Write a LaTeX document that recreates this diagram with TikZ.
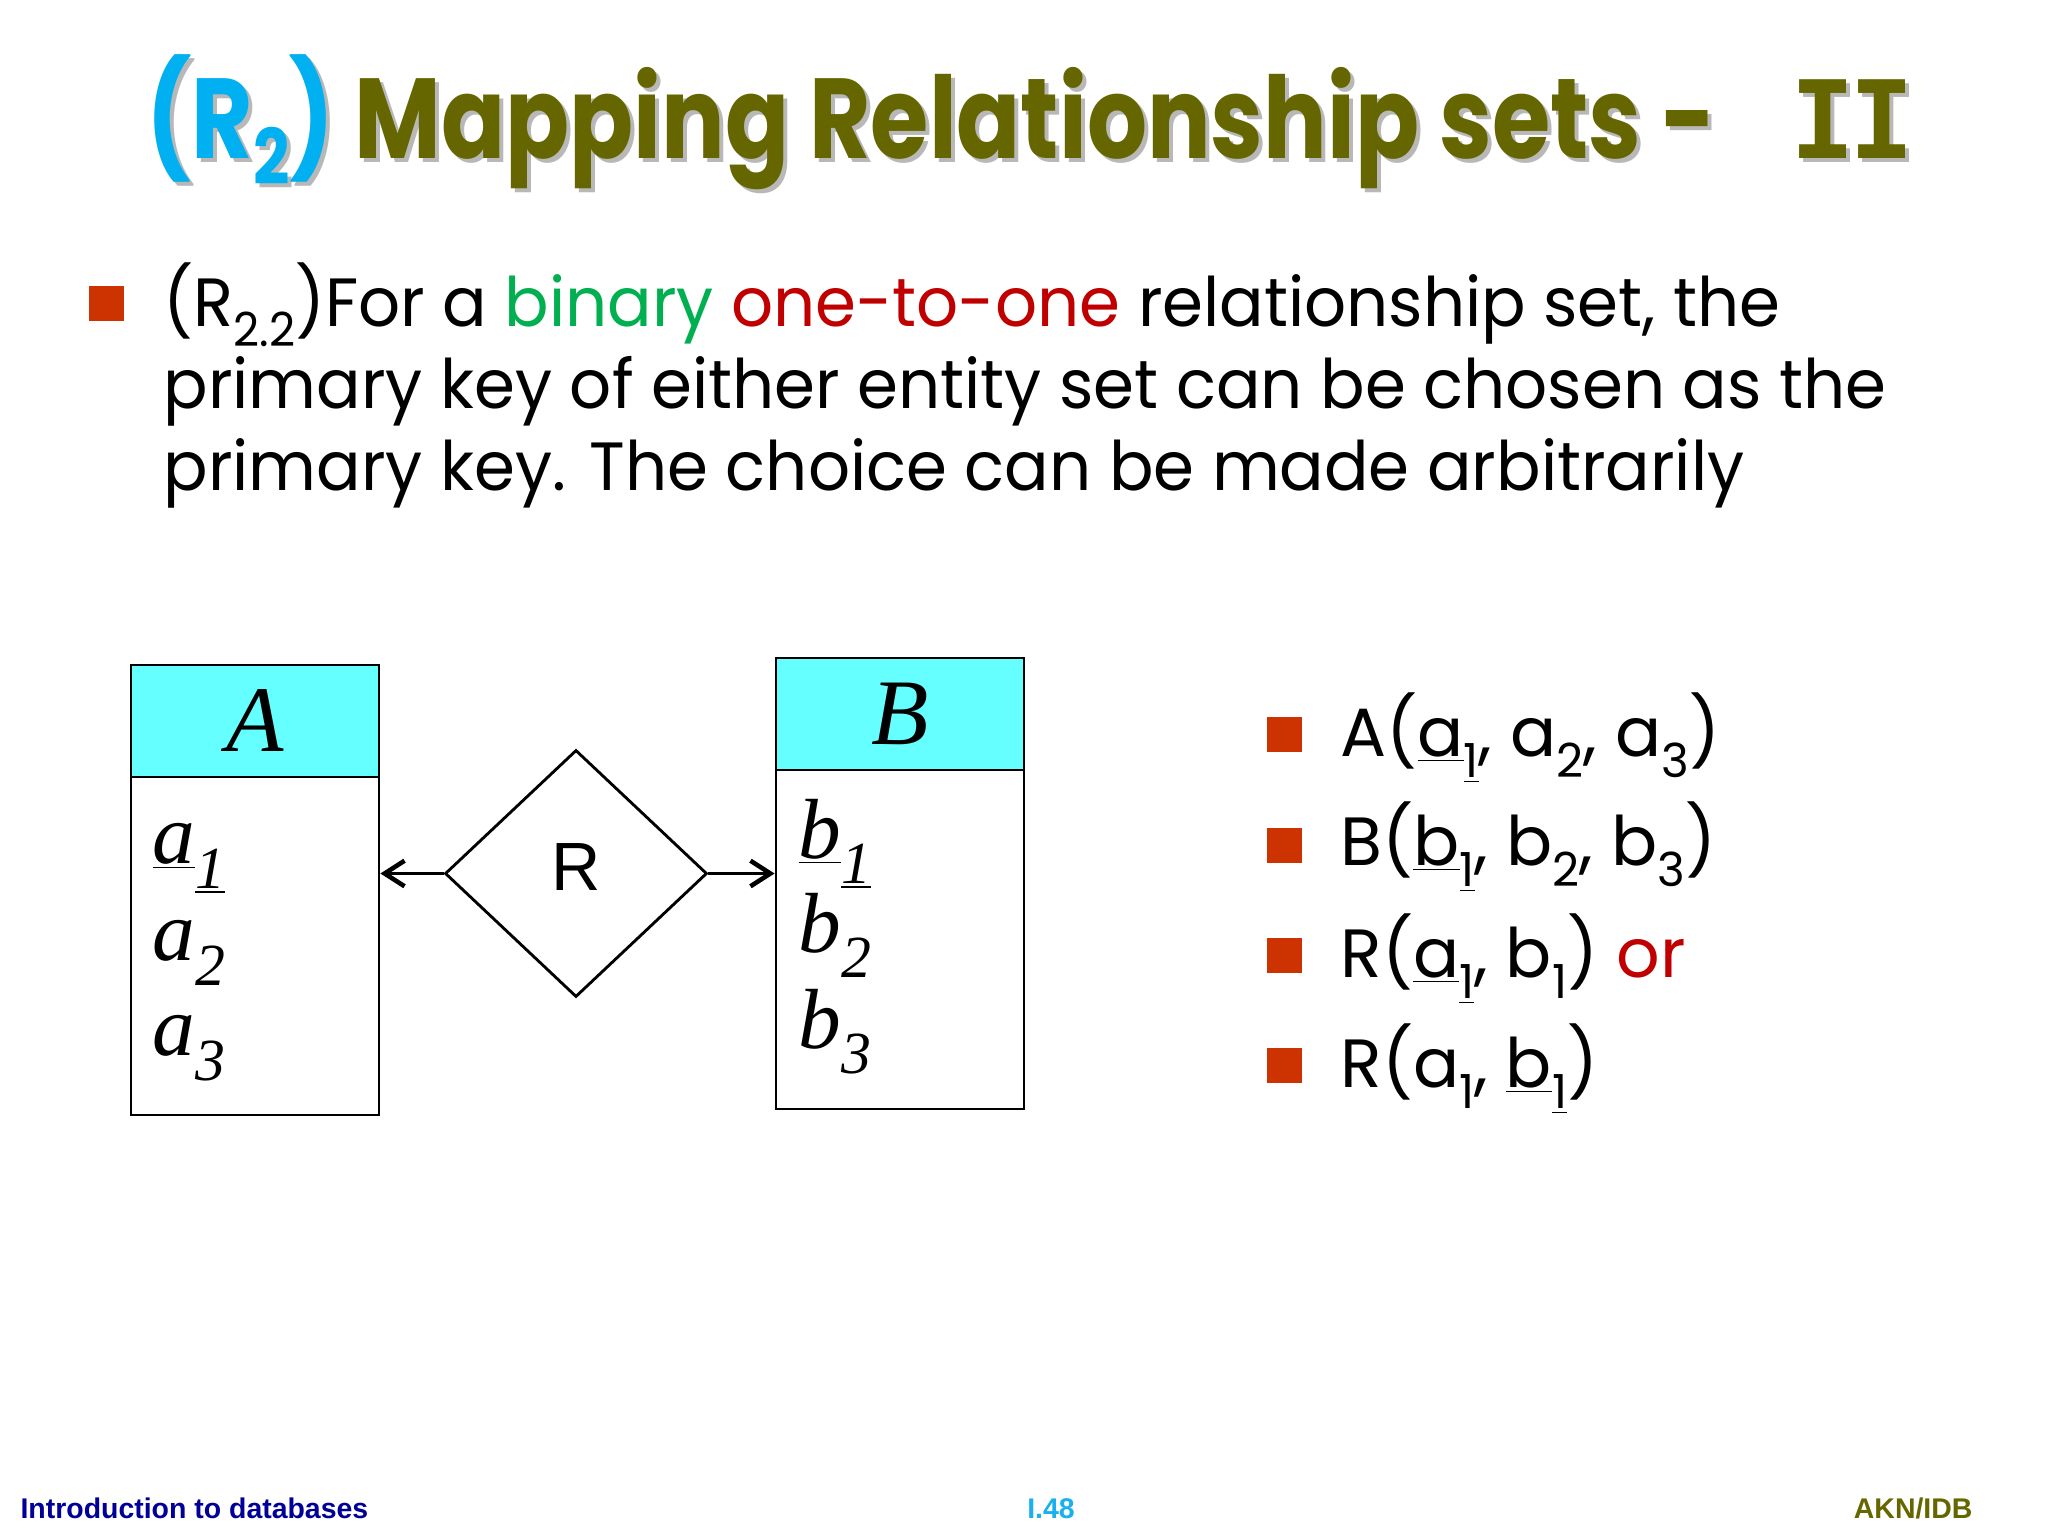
\documentclass[tikz,border=0pt]{standalone}
\usepackage{fontspec}
\usetikzlibrary{shapes.geometric,arrows.meta}
\setmainfont{Poppins}
\newfontfamily\bodyfont[FakeStretch=0.965]{Poppins}
\newfontfamily\listfont{Poppins}
\newfontfamily\titlefont[FakeStretch=0.83]{Poppins}
\newfontfamily\slabfont{DejaVu Sans Mono}
\newfontfamily\serifit{Liberation Serif}
\newfontfamily\arialfont{Liberation Sans}
\definecolor{titleolive}{HTML}{666600}
\definecolor{titlecyan}{HTML}{00B0F0}
\definecolor{bulletred}{HTML}{CC3300}
\definecolor{kwgreen}{HTML}{00B050}
\definecolor{kwred}{HTML}{C00000}
\definecolor{headcyan}{HTML}{66FFFF}
\definecolor{footnavy}{HTML}{000099}
\definecolor{footcyan}{HTML}{1AB0EE}
\newcommand\sbx[2]{\raisebox{-#1}{\fontsize{16.5}{16.5}\selectfont #2}}
\newcommand\isb[1]{\raisebox{-8.8pt}{\fontsize{21}{21}\selectfont\itshape #1}}
\newcommand\titletext{(R\raisebox{-9pt}{\fontsize{27}{27}\selectfont 2}) Mapping Relationship sets -\hspace{26pt}{\slabfont\bfseries\fontsize{38}{38}\selectfont I\kern-2pt I}}
\begin{document}
\begin{tikzpicture}[x=0.3515625pt,y=-0.3515625pt,
  bodytext/.style={anchor=base west,inner sep=0pt,font=\bodyfont\fontsize{24}{28.8}\selectfont},
  listtext/.style={anchor=base west,inner sep=0pt,font=\listfont\fontsize{24}{28.8}\selectfont},
  bsq/.style={fill=bulletred,draw=none,minimum width=35*0.3515625pt,minimum height=35*0.3515625pt,inner sep=0pt},
  headbox/.style={draw=black,line width=1pt,fill=headcyan,minimum width=248*0.3515625pt,minimum height=112*0.3515625pt,inner sep=0pt,font=\serifit\itshape\fontsize{33}{33}\selectfont},
  attrbox/.style={draw=black,line width=1pt,fill=white,minimum width=248*0.3515625pt,inner sep=0pt},
  attr/.style={anchor=base west,inner sep=0pt,font=\serifit\itshape\fontsize{30}{30}\selectfont},
  conn/.style={line width=1pt,-{Straight Barb[length=7pt,width=9pt,line width=1.6pt]}},
  foot/.style={anchor=base,inner sep=0pt,font=\arialfont\bfseries\fontsize{10}{12}\selectfont}]
\useasboundingbox[fill=white] (0,0) rectangle (2048,1536);
% title
\node[anchor=base west,inner sep=0pt,text=black!28,font=\titlefont\bfseries\fontsize{40}{40}\selectfont] (titleshadow) at (150,163)
  {\titletext};
\node[anchor=base west,inner sep=0pt,text=titleolive,font=\titlefont\bfseries\fontsize{40}{40}\selectfont] (title) at (146,159)
  {\textcolor{titlecyan}{(R\raisebox{-9pt}{\fontsize{27}{27}\selectfont 2})} Mapping Relationship sets -\hspace{26pt}{\slabfont\bfseries\fontsize{38}{38}\selectfont I\kern-2pt I}};
% main bullet
\node[bsq] (sq0) at (106.5,304) {};
\node[bodytext] (l1) at (163,327) {(R\sbx{7pt}{2.2})For a \textcolor{kwgreen}{binary} \textcolor{kwred}{one-to-one} relationship set, the};
\node[bodytext] (l2) at (163,409) {primary key of either entity set can be chosen as the};
\node[bodytext] (l3) at (163,491) {primary key. The choice can be made arbitrarily};
% entity A
\node[headbox] (Ah) at (255,721) {A};
\node[attrbox,minimum height=338*0.3515625pt] (Ab) at (255,946) {};
\node[attr] (a1) at (152,863) {\underline{a}\isb{\underline{1}}};
\node[attr] (a2) at (152,960) {a\isb{2}};
\node[attr] (a3) at (152,1055) {a\isb{3}};
% entity B
\node[headbox] (Bh) at (900,714) {B};
\node[attrbox,minimum height=339*0.3515625pt] (Bb) at (900,939.5) {};
\node[attr] (b1) at (798,858) {\underline{b}\isb{\underline{1}}};
\node[attr] (b2) at (798,952) {b\isb{2}};
\node[attr] (b3) at (798,1048) {b\isb{3}};
% relationship
\node[diamond,draw=black,line width=1pt,minimum width=262*0.3515625pt,minimum height=247*0.3515625pt,inner sep=0pt] (R) at (576,873.5) {};
\node[inner sep=0pt,font=\arialfont\fontsize{24}{24}\selectfont] (Rlbl) at (576,867) {R};
\draw[conn] (R.west) -- (R.west -| Ab.east);
\draw[conn] (R.east) -- (R.east -| Bb.west);
% right bullets
\node[bsq] (s1) at (1284,734) {};
\node[listtext] (r1) at (1340,756) {A(\underline{a}\sbx{7.7pt}{\underline{1}}, a\sbx{7.7pt}{2}, a\sbx{7.7pt}{3})};
\node[bsq] (s2) at (1284,845) {};
\node[listtext] (r2) at (1340,865) {B(\underline{b}\sbx{7.7pt}{\underline{1}}, b\sbx{7.7pt}{2}, b\sbx{7.7pt}{3})};
\node[bsq] (s3) at (1284,955) {};
\node[listtext] (r3) at (1340,977) {R(\underline{a}\sbx{7.7pt}{\underline{1}}, b\sbx{7.7pt}{1}) \textcolor{kwred}{or}};
\node[bsq] (s4) at (1284,1065) {};
\node[listtext] (r4) at (1340,1087) {R(a\sbx{7.7pt}{1}, \underline{b}\sbx{7.7pt}{\underline{1}})};
% footer
\node[foot,anchor=base west,text=footnavy] (f1) at (20,1518) {Introduction to databases};
\node[foot,text=footcyan] (f2) at (1051,1518) {I.48};
\node[foot,anchor=base east,text=titleolive] (f3) at (1973,1518) {AKN/IDB};
\end{tikzpicture}
\end{document}
